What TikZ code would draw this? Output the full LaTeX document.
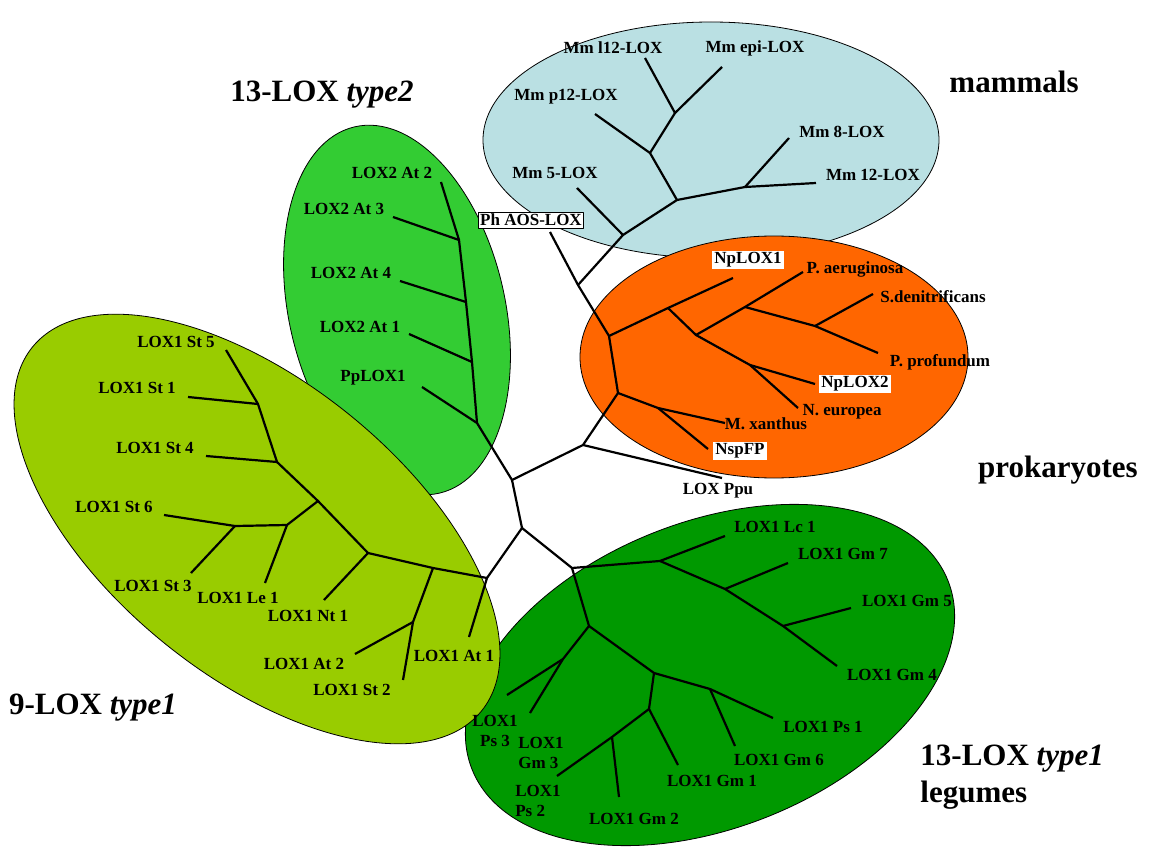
\documentclass[tikz,border=0pt]{standalone}
\usepackage{fontspec}
\setmainfont{Liberation Serif}
\usepackage{tikz}

\definecolor{mammalblue}{RGB}{186,224,227}
\definecolor{prokorange}{RGB}{255,102,0}
\definecolor{typetwogreen}{RGB}{51,204,51}
\definecolor{ninegreen}{RGB}{153,204,0}
\definecolor{legumegreen}{RGB}{0,153,0}

\begin{document}
\begin{tikzpicture}[x=1pt, y=-1pt, line width=2.2pt, line join=round,
    leaf/.style={font=\bfseries\fontsize{17}{20}\selectfont, inner sep=1pt},
    boxed/.style={leaf, fill=white, inner sep=2pt},
    group/.style={font=\bfseries\fontsize{31}{37}\selectfont},
    clade/.style={draw=black, line width=0.8pt}]
    \useasboundingbox (0,0) rectangle (1149,850);

    % draw clade ellipses
    \filldraw[clade, fill=mammalblue] (711,140) ellipse [x radius=228, y radius=118];
    \filldraw[clade, fill=prokorange] (774,357) ellipse [x radius=194, y radius=121];
    \filldraw[clade, fill=typetwogreen, rotate around={13:(397,310)}] (397,310) ellipse [x radius=108, y radius=188];
    \filldraw[clade, fill=legumegreen, rotate around={21.6:(710,675)}] (710,675) ellipse [x radius=256, y radius=153];
    \filldraw[clade, fill=ninegreen, rotate around={-39:(257,529)}] (257,529) ellipse [x radius=289, y radius=147];

    % backbone
    \coordinate (ph) at (550,232);
    \coordinate (n1) at (578,285);
    \coordinate (p0) at (609,336);
    \coordinate (p1) at (618,393);
    \coordinate (n2) at (583,445);
    \coordinate (ppu) at (722,478);
    \coordinate (n3) at (512,480);
    \coordinate (n4) at (522,528);
    \draw (ph) -- (n1) -- (p0) -- (p1) -- (n2) -- (n3) -- (n4);
    \draw (n2) -- (ppu);

    % mammals
    \coordinate (m0) at (623,235);
    \coordinate (m1) at (677,200);
    \coordinate (m2) at (650,153);
    \coordinate (m3) at (745,187);
    \coordinate (m4) at (675,113);
    \coordinate (mm5) at (577,188);
    \coordinate (mm8) at (789,138);
    \coordinate (mm12) at (816,183);
    \coordinate (mmp12) at (595,114);
    \coordinate (mml12) at (645,58);
    \coordinate (mmepi) at (722,67);
    \draw (n1) -- (m0) -- (m1) -- (m3) -- (mm12);
    \draw (m0) -- (mm5);
    \draw (m3) -- (mm8);
    \draw (m1) -- (m2) -- (m4) -- (mml12);
    \draw (m2) -- (mmp12);
    \draw (m4) -- (mmepi);

    % prokaryotes
    \coordinate (q1) at (668,308);
    \coordinate (q2) at (696,335);
    \coordinate (q3) at (745,307);
    \coordinate (q4) at (815,326);
    \coordinate (q5) at (750,365);
    \coordinate (q6) at (658,408);
    \coordinate (np1) at (733,278);
    \coordinate (pae) at (803,272);
    \coordinate (sde) at (873,294);
    \coordinate (ppr) at (878,353);
    \coordinate (np2) at (815,384);
    \coordinate (neu) at (798,408);
    \coordinate (mxa) at (725,423);
    \coordinate (nsp) at (708,449);
    \draw (p0) -- (q1) -- (np1);
    \draw (q1) -- (q2) -- (q3) -- (pae);
    \draw (q3) -- (q4) -- (ppr);
    \draw (q4) -- (sde);
    \draw (q2) -- (q5) -- (np2);
    \draw (q5) -- (neu);
    \draw (p1) -- (q6) -- (mxa);
    \draw (q6) -- (nsp);

    % 13-LOX type2
    \coordinate (t0) at (477,423);
    \coordinate (t1) at (472,362);
    \coordinate (t2) at (466,302);
    \coordinate (t3) at (459,240);
    \coordinate (atb) at (441,182);
    \coordinate (atc) at (393,217);
    \coordinate (atd) at (400,281);
    \coordinate (ata) at (409,334);
    \coordinate (pp) at (422,387);
    \draw (n3) -- (t0) -- (t1) -- (t2) -- (t3) -- (atb);
    \draw (t0) -- (pp);
    \draw (t1) -- (ata);
    \draw (t2) -- (atd);
    \draw (t3) -- (atc);

    % 9-LOX type1
    \coordinate (g0) at (487,578);
    \coordinate (ga) at (433,568);
    \coordinate (gb) at (413,622);
    \coordinate (g1) at (368,553);
    \coordinate (g2) at (318,501);
    \coordinate (g3) at (287,525);
    \coordinate (g4) at (277,462);
    \coordinate (g5) at (235,526);
    \coordinate (g6) at (258,404);
    \coordinate (sat1) at (469,637);
    \coordinate (sat2) at (355,654);
    \coordinate (sst2) at (403,680);
    \coordinate (snt1) at (324,600);
    \coordinate (sle1) at (265,583);
    \coordinate (sst6) at (164,515);
    \coordinate (sst3) at (191,573);
    \coordinate (sst4) at (206,456);
    \coordinate (sst1) at (188,397);
    \coordinate (sst5) at (226,350);
    \draw (n4) -- (g0) -- (ga) -- (g1) -- (g2) -- (g4) -- (g6) -- (sst5);
    \draw (g0) -- (sat1);
    \draw (ga) -- (gb) -- (sst2);
    \draw (gb) -- (sat2);
    \draw (g1) -- (snt1);
    \draw (g2) -- (g3) -- (g5) -- (sst6);
    \draw (g3) -- (sle1);
    \draw (g5) -- (sst3);
    \draw (g4) -- (sst4);
    \draw (g6) -- (sst1);

    % 13-LOX type1 legumes
    \coordinate (L0) at (572,568);
    \coordinate (L1) at (660,561);
    \coordinate (L2) at (725,589);
    \coordinate (L3) at (783,626);
    \coordinate (L4) at (589,626);
    \coordinate (L5) at (563,659);
    \coordinate (L6) at (654,673);
    \coordinate (L7) at (710,689);
    \coordinate (L8) at (649,709);
    \coordinate (L9) at (612,737);
    \coordinate (llc1) at (725,536);
    \coordinate (lgm7) at (788,563);
    \coordinate (lgm5) at (851,608);
    \coordinate (lgm4) at (837,666);
    \coordinate (lps3) at (507,695);
    \coordinate (lgm3) at (530,713);
    \coordinate (lps1) at (773,718);
    \coordinate (lgm6) at (735,746);
    \coordinate (lgm1) at (678,765);
    \coordinate (lps2) at (557,776);
    \coordinate (lgm2) at (619,797);
    \draw (n4) -- (L0) -- (L1) -- (llc1);
    \draw (L1) -- (L2) -- (L3) -- (lgm4);
    \draw (L2) -- (lgm7);
    \draw (L3) -- (lgm5);
    \draw (L0) -- (L4) -- (L5) -- (lps3);
    \draw (L5) -- (lgm3);
    \draw (L4) -- (L6) -- (L7) -- (lps1);
    \draw (L7) -- (lgm6);
    \draw (L6) -- (L8) -- (lgm1);
    \draw (L8) -- (L9) -- (lps2);
    \draw (L9) -- (lgm2);

    % draw labels
    \node[boxed, draw, line width=0.8pt] (phlab) at (531,220) {Ph AOS-LOX};
    \node[leaf] (mml12lab) at (613,48) {Mm l12-LOX};
    \node[leaf] (mmepilab) at (755,48) {Mm epi-LOX};
    \node[leaf] (mmp12lab) at (566,97) {Mm p12-LOX};
    \node[leaf] (mm8lab) at (842,132) {Mm 8-LOX};
    \node[leaf] (mm12lab) at (873,175) {Mm 12-LOX};
    \node[leaf] (mm5lab) at (555,173) {Mm 5-LOX};

    \node[boxed] (np1lab) at (748,260) {NpLOX1};
    \node[leaf] (paelab) at (855,269) {P. aeruginosa};
    \node[leaf] (sdelab) at (933,297) {S.denitrificans};
    \node[leaf] (pprlab) at (940,362) {P. profundum};
    \node[boxed] (np2lab) at (855,384) {NpLOX2};
    \node[leaf] (neulab) at (842,412) {N. europea};
    \node[leaf] (mxalab) at (766,424) {M. xanthus};
    \node[boxed] (nsplab) at (740,451) {NspFP};
    \node[leaf] (ppulab) at (718,491) {LOX Ppu};

    \node[leaf] (atblab) at (392,173) {LOX2 At 2};
    \node[leaf] (atclab) at (344,209) {LOX2 At 3};
    \node[leaf] (atdlab) at (351,273) {LOX2 At 4};
    \node[leaf] (atalab) at (360,327) {LOX2 At 1};
    \node[leaf] (pplab) at (373,378) {PpLOX1};

    \node[leaf] (sst5lab) at (176,342) {LOX1 St 5};
    \node[leaf] (sst1lab) at (137,388) {LOX1 St 1};
    \node[leaf] (sst4lab) at (155,448) {LOX1 St 4};
    \node[leaf] (sst6lab) at (114,507) {LOX1 St 6};
    \node[leaf] (sst3lab) at (153,586) {LOX1 St 3};
    \node[leaf] (sle1lab) at (238,598) {LOX1 Le 1};
    \node[leaf] (snt1lab) at (308,616) {LOX1 Nt 1};
    \node[leaf] (sat2lab) at (304,664) {LOX1 At 2};
    \node[leaf] (sst2lab) at (352,690) {LOX1 St 2};
    \node[leaf] (sat1lab) at (454,656) {LOX1 At 1};

    \node[leaf] (llc1lab) at (775,527) {LOX1 Lc 1};
    \node[leaf] (lgm7lab) at (843,554) {LOX1 Gm 7};
    \node[leaf] (lgm5lab) at (907,601) {LOX1 Gm 5};
    \node[leaf] (lgm4lab) at (892,675) {LOX1 Gm 4};
    \node[leaf] (lps1lab) at (823,727) {LOX1 Ps 1};
    \node[leaf] (lgm6lab) at (779,760) {LOX1 Gm 6};
    \node[leaf] (lgm1lab) at (712,781) {LOX1 Gm 1};
    \node[leaf] (lgm2lab) at (634,819) {LOX1 Gm 2};
    \node[leaf, align=left] (lps2lab) at (538,801) {LOX1\\Ps 2};
    \node[leaf, align=left] (lgm3lab) at (541,753) {LOX1\\Gm 3};
    \node[leaf, align=center] (lps3lab) at (495,731) {LOX1\\Ps 3};

    % draw group names
    \node[group] (typetwo) at (322,95) {13-LOX \textit{type2}};
    \node[group] (mammals) at (1014,82) {mammals};
    \node[group] (prok) at (1058,470) {prokaryotes};
    \node[group] (ninelox) at (93,708) {9-LOX \textit{type1}};
    \node[group, align=left, anchor=west] (legumes) at (916,777) {13-LOX \textit{type1}\\legumes};
\end{tikzpicture}
\end{document}
